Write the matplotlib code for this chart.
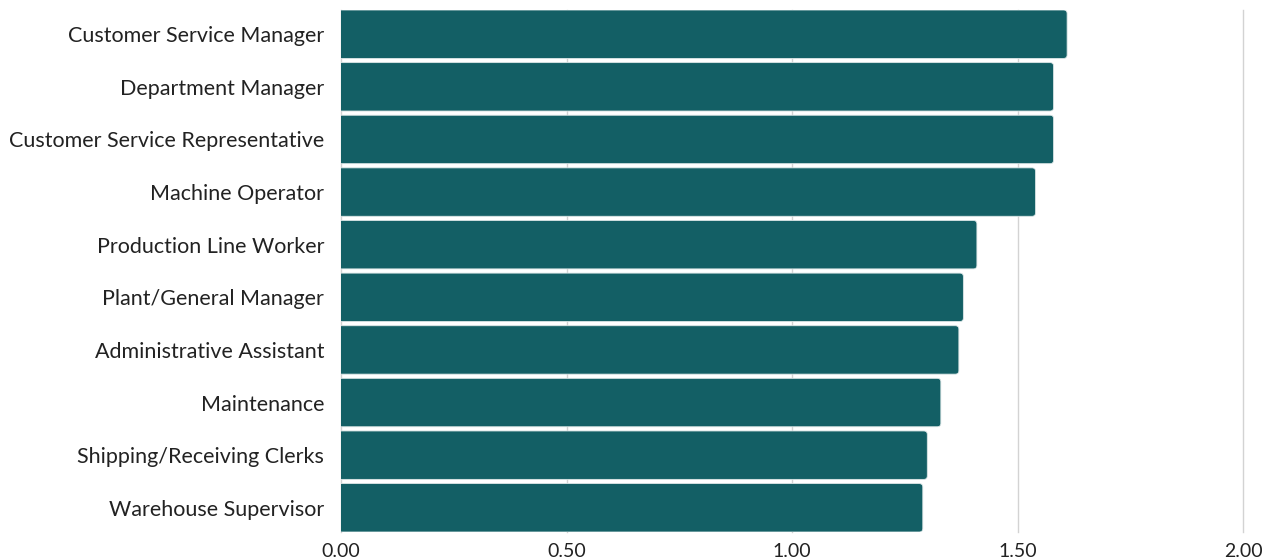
import matplotlib
matplotlib.use("Agg")
import matplotlib.pyplot as plt
from matplotlib.patches import FancyBboxPatch

categories = ["Customer Service Manager", "Department Manager", "Customer Service Representative",
              "Machine Operator", "Production Line Worker", "Plant/General Manager",
              "Administrative Assistant", "Maintenance", "Shipping/Receiving Clerks",
              "Warehouse Supervisor"]
values = [1.61, 1.58, 1.58, 1.54, 1.41, 1.38, 1.37, 1.33, 1.30, 1.29]
xticks = [0.0, 0.5, 1.0, 1.5, 2.0]
xticklabels = ["0.00", "0.50", "1.00", "1.50", "2.00"]

plt.rcParams['font.family'] = ['Lato', 'DejaVu Sans']

fig = plt.figure(figsize=(12.77, 5.6), dpi=100)
ax = fig.add_axes([341/1277, 28/560, (1243-341)/1277, (532-10)/560])

ypos = list(range(len(categories)))[::-1]
bars = ax.barh(ypos, values, height=0.92, color="#135f65", zorder=2)

ax.set_xlim(0, 2.0)
ax.set_ylim(-0.46, len(categories) - 0.54)

# replace with rounded-corner bars
fig.canvas.draw()
bbox = ax.get_window_extent()
px_per_x = bbox.width / 2.0
px_per_y = bbox.height / (len(categories) - 0.08)
r_px = 3.5
for b in bars:
    x0, y0, w, h = b.get_x(), b.get_y(), b.get_width(), b.get_height()
    b.set_visible(False)
    p = FancyBboxPatch((x0 - 0.05, y0), w + 0.05, h,
                       boxstyle=f"round,pad=0,rounding_size={r_px/px_per_x}",
                       mutation_aspect=px_per_x / px_per_y,
                       facecolor="#135f65", edgecolor="#dbe6e6", linewidth=0.6,
                       zorder=2, clip_on=True)
    ax.add_patch(p)

ax.set_xticks(xticks)
ax.set_xticklabels(xticklabels, fontsize=14, color="#222222")
ax.set_yticks(ypos)
ax.set_yticklabels(categories, fontsize=15.5, color="#222222")
ax.tick_params(axis='both', length=0)
ax.tick_params(axis='x', pad=8)
ax.tick_params(axis='y', pad=12)
for s in ax.spines.values():
    s.set_visible(False)
ax.grid(axis='x', color="#d3d3d3", linewidth=1, zorder=0)
for gl in ax.get_xgridlines():
    gl.set_clip_on(False)
ax.set_axisbelow(True)

fig.savefig("out.png", dpi=100)
